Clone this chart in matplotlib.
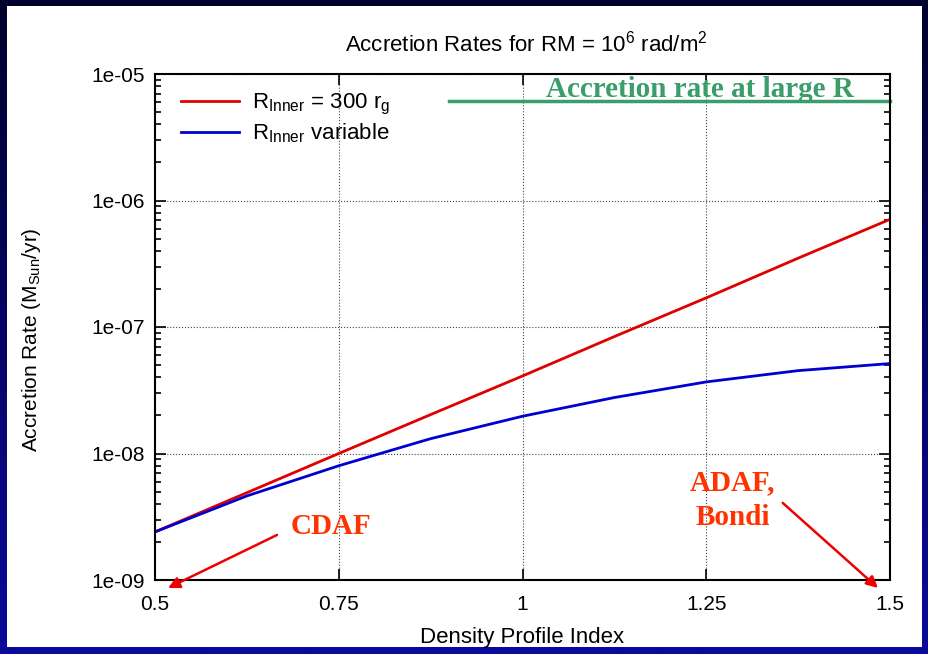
import numpy as np
import matplotlib
matplotlib.use('Agg')
import matplotlib.pyplot as plt
from matplotlib.patches import Rectangle, FancyArrowPatch
from matplotlib.colors import LinearSegmentedColormap
from matplotlib.ticker import FuncFormatter, FixedLocator, LogLocator, NullFormatter

plt.rcParams['font.family'] = ['Liberation Sans', 'DejaVu Sans']
plt.rcParams['mathtext.default'] = 'regular'

# values
index = [0.5, 0.625, 0.75, 0.875, 1.0, 1.125, 1.25, 1.375, 1.5]
rate_fixed = [2.40e-9, 4.9e-9, 1.0e-8, 2.03e-8, 4.1e-8, 8.4e-8, 1.7e-7, 3.5e-7, 7.1e-7]
rate_variable = [2.40e-9, 4.62e-9, 8.0e-9, 1.31e-8, 1.97e-8, 2.77e-8, 3.68e-8, 4.52e-8, 5.14e-8]
large_r_x = [0.9, 1.5]
large_r_rate = [6.1e-6, 6.1e-6]
x_ticks = [0.5, 0.75, 1, 1.25, 1.5]
x_tick_labels = ['0.5', '0.75', '1', '1.25', '1.5']
y_ticks = [1e-9, 1e-8, 1e-7, 1e-6, 1e-5]

fig = plt.figure(figsize=(9.29, 6.54), dpi=100)

# slide background: dark-to-blue gradient with a white panel on top
bg = fig.add_axes([0, 0, 1, 1], zorder=-10)
bg.axis('off')
slide = LinearSegmentedColormap.from_list('slide', ['#00002c', '#0a0a9c'])
bg.imshow(np.linspace(0, 1, 256).reshape(-1, 1), cmap=slide, aspect='auto',
          extent=[0, 1, 0, 1], origin='upper')
bg.add_patch(Rectangle((7 / 929, 7 / 654), 915 / 929, 641 / 654,
                       facecolor='white', edgecolor='none'))
bg.set_xlim(0, 1)
bg.set_ylim(0, 1)

ax = fig.add_axes([155 / 929, 74 / 654, 735 / 929, 506 / 654])
ax.set_facecolor('white')

ax.semilogy(index, rate_fixed, color='#e00000', lw=2,
            label=r'R$_{Inner}$ = 300 r$_g$')
ax.semilogy(index, rate_variable, color='#0000d0', lw=2,
            label=r'R$_{Inner}$ variable')
ax.plot(large_r_x, large_r_rate, color='#3a9d6a', lw=2.5, clip_on=False)

ax.set_xlim(0.5, 1.5)
ax.set_ylim(1e-9, 1e-5)
ax.xaxis.set_major_locator(FixedLocator(x_ticks))
ax.set_xticklabels(x_tick_labels)
ax.yaxis.set_major_locator(FixedLocator(y_ticks))
ax.yaxis.set_major_formatter(FuncFormatter(lambda v, p: f'{v:.0e}'))
ax.yaxis.set_minor_locator(LogLocator(base=10, subs=np.arange(2, 10)))
ax.yaxis.set_minor_formatter(NullFormatter())
ax.tick_params(which='both', direction='in', top=True, right=True,
               labelsize=15, width=1.2)
ax.tick_params(axis='x', pad=11)
ax.tick_params(axis='y', pad=7)
ax.tick_params(which='major', length=8)
ax.tick_params(which='minor', length=4)
ax.grid(True, which='major', linestyle=':', color='#444444', lw=0.8)
for s in ax.spines.values():
    s.set_linewidth(1.5)

fig.text(526 / 929, 1 - 44 / 654, r'Accretion Rates for RM = 10$^6$ rad/m$^2$',
         fontsize=16, ha='center', va='center')
ax.set_xlabel('Density Profile Index', fontsize=16)
ax.xaxis.set_label_coords(0.5, -0.092)
ax.set_ylabel(r'Accretion Rate (M$_{Sun}$/yr)', fontsize=15)
ax.yaxis.set_label_coords(-0.152, 0.474)

ax.legend(loc='upper left', bbox_to_anchor=(0.011, 1.0), frameon=False,
          fontsize=16, handlelength=2.6, handletextpad=0.6, labelspacing=0.2,
          borderaxespad=0.4)

ax.text(1.2415, 7.6e-6, 'Accretion rate at large R', color='#3a9d6a',
        fontsize=21, fontweight='bold', family='Liberation Serif',
        ha='center', va='center')
ax.text(0.7395, 2.63e-9, 'CDAF', color='#ff3300', fontsize=21,
        fontweight='bold', family='Liberation Serif', ha='center', va='center')
ax.text(1.286, 4.3e-9, 'ADAF,\nBondi', color='#ff3300', fontsize=21,
        fontweight='bold', family='Liberation Serif', ha='center', va='center',
        linespacing=1.35)

# red pointer arrows running below the x axis
for start, end in [((0.666, 2.27e-9), (0.5177, 0.865e-9)),
                   ((1.354, 4.07e-9), (1.4837, 0.865e-9))]:
    fig.add_artist(FancyArrowPatch(start, end, transform=ax.transData,
                                   arrowstyle='-|>', mutation_scale=17,
                                   color='#ee0000', lw=1.8, shrinkA=0,
                                   shrinkB=0, clip_on=False, zorder=5))

fig.savefig('out.png', dpi=100)
